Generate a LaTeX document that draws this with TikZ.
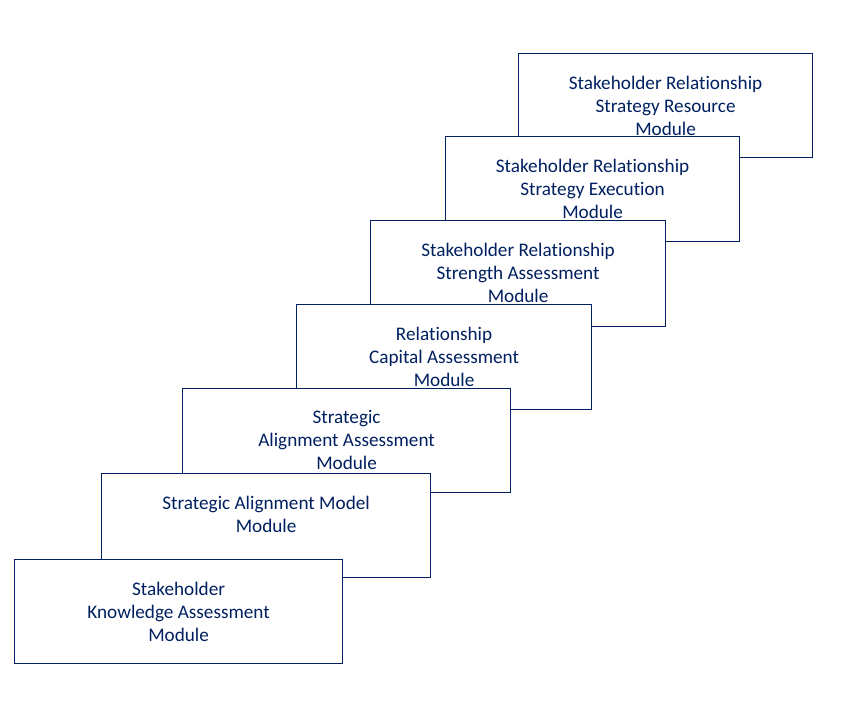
\documentclass[tikz,border=0pt]{standalone}
\usepackage{fontspec}
\setmainfont{Carlito}[Ligatures=NoCommon]
\usetikzlibrary{positioning}
\definecolor{navy}{RGB}{0,32,96}
\tikzset{
	modbox/.style={draw=navy, fill=white, line width=1.2pt, anchor=north west, inner sep=0pt, minimum height=104pt},
	modtext/.style={text=navy, align=center, inner sep=0pt, font=\fontsize{19.2}{23}\selectfont},
}
\begin{document}
\begin{tikzpicture}[x=1pt, y=-1pt]
				\useasboundingbox (0, 0) rectangle (863, 701);

				\node[modbox, minimum width=294pt] (resource) at (518, 53) {};
				\node[modtext, below=22.5pt of resource.north] (resourcetxt) {Stakeholder Relationship\\Strategy Resource\\Module};

				\node[modbox, minimum width=294pt, minimum height=105pt] (execution) at (445, 136) {};
				\node[modtext, below=22.5pt of execution.north] (executiontxt) {Stakeholder Relationship\\Strategy Execution\\Module};

				\node[modbox, minimum width=295pt, minimum height=106pt] (strength) at (370, 220) {};
				\node[modtext, below=22.5pt of strength.north] (strengthtxt) {Stakeholder Relationship\\Strength Assessment\\Module};

				\node[modbox, minimum width=295pt, minimum height=105pt] (capital) at (296, 304) {};
				\node[modtext, below=22.5pt of capital.north] (capitaltxt) {Relationship\\Capital Assessment\\Module};

				\node[modbox, minimum width=328pt] (alignment) at (182, 388) {};
				\node[modtext, below=22.5pt of alignment.north] (alignmenttxt) {Strategic\\Alignment Assessment\\Module};

				\node[modbox, minimum width=329pt] (model) at (101, 473) {};
				\node[modtext, below=22.5pt of model.north] (modeltxt) {Strategic Alignment Model\\Module};

				\node[modbox, minimum width=328pt] (knowledge) at (14, 559) {};
				\node[modtext, below=22.5pt of knowledge.north] (knowledgetxt) {Stakeholder\\Knowledge Assessment\\Module};
			\end{tikzpicture}
\end{document}
